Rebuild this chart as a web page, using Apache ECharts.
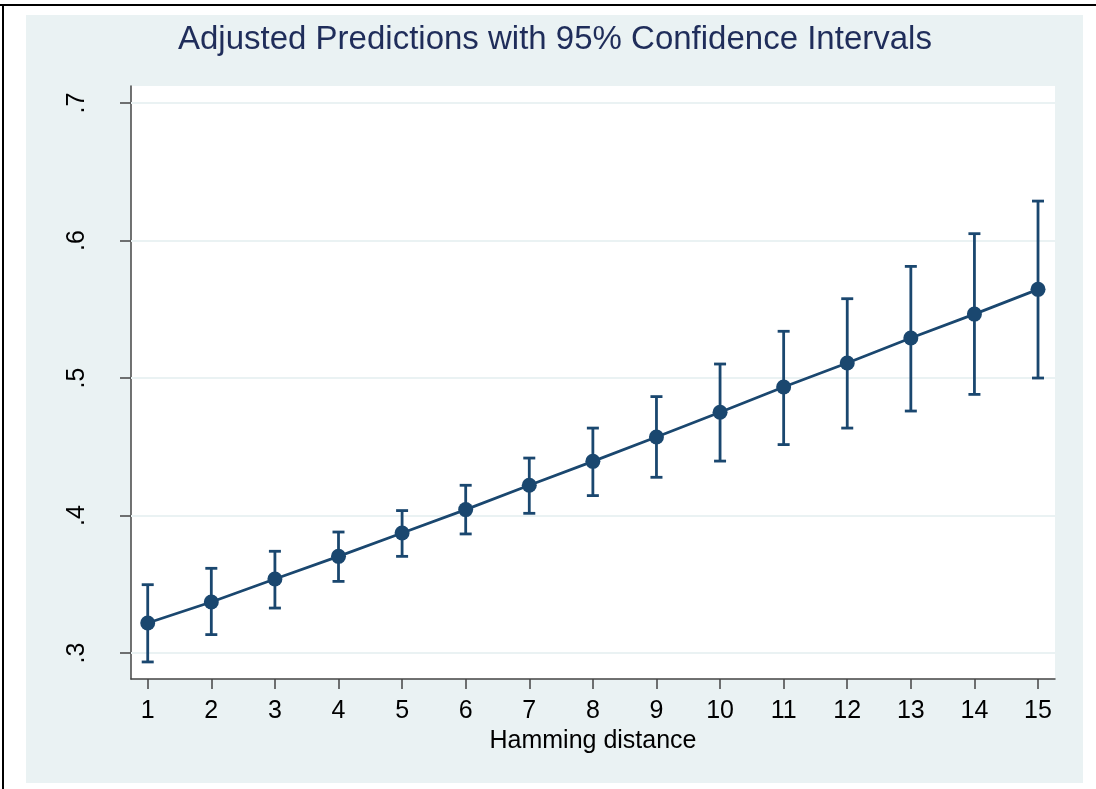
<!DOCTYPE html>
<html><head><meta charset="utf-8">
<script src="https://cdn.jsdelivr.net/npm/echarts@6/dist/echarts.min.js"></script>
<style>html,body{margin:0;padding:0;background:#fff}#c{width:1096px;height:789px}</style>
</head><body><div id="c"></div>
<script>
const hamming   = [1, 2, 3, 4, 5, 6, 7, 8, 9, 10, 11, 12, 13, 14, 15];
const predicted = [0.3218, 0.3371, 0.3538, 0.3703, 0.3873, 0.4043, 0.4220, 0.4394, 0.4571, 0.4751, 0.4935, 0.5109, 0.5291, 0.5465, 0.5645];
const ciLower   = [0.2935, 0.3134, 0.3327, 0.3521, 0.3703, 0.3866, 0.4016, 0.4145, 0.4278, 0.4396, 0.4516, 0.4636, 0.4760, 0.4881, 0.5000];
const ciUpper   = [0.3497, 0.3616, 0.3740, 0.3880, 0.4036, 0.4220, 0.4418, 0.4636, 0.4865, 0.5102, 0.5340, 0.5577, 0.5812, 0.6050, 0.6287];
const yTicks    = [0.3, 0.4, 0.5, 0.6, 0.7];
const xTicks    = hamming;
const titleText = 'Adjusted Predictions with 95% Confidence Intervals';
const xTitle    = 'Hamming distance';

const navy = '#1a476f';
const font = 'Arial, "Liberation Sans", sans-serif';

const chart = echarts.init(document.getElementById('c'), null, {renderer: 'canvas'});
const option = {
  backgroundColor: '#ffffff',
  animation: false,
  graphic: [
    {type: 'rect', z: -10, shape: {x: 26, y: 15, width: 1057, height: 768}, style: {fill: '#eaf2f3'}, silent: true},
    {type: 'rect', z: -10, shape: {x: 0, y: 4, width: 1096, height: 2}, style: {fill: '#000'}, silent: true},
    {type: 'rect', z: -10, shape: {x: 2, y: 4, width: 2, height: 785}, style: {fill: '#000'}, silent: true}
  ],
  title: {
    text: titleText,
    left: 173,
    top: 18,
    textStyle: {fontFamily: font, fontSize: 33, fontWeight: 'normal', color: '#1f2d5a'}
  },
  grid: {
    left: 131, top: 86, right: 41, bottom: 110,
    show: true, backgroundColor: '#ffffff', borderWidth: 0
  },
  xAxis: {
    type: 'value',
    min: 0.737, max: 15.267,
    name: xTitle,
    nameLocation: 'middle',
    nameGap: 48,
    nameTextStyle: {fontFamily: font, fontSize: 25, color: '#000'},
    axisLine: {show: true, onZero: false, lineStyle: {color: '#444', width: 1.5}},
    axisTick: {show: true, length: 10, customValues: xTicks, lineStyle: {color: '#444', width: 1.5}},
    axisLabel: {customValues: xTicks, fontFamily: font, fontSize: 25, color: '#000', margin: 20},
    splitLine: {show: false}
  },
  yAxis: {
    type: 'value',
    min: 0.2811, max: 0.7124,
    axisLine: {show: true, onZero: false, lineStyle: {color: '#444', width: 1.5}},
    axisTick: {show: true, length: 11, customValues: yTicks, lineStyle: {color: '#444', width: 1.5}},
    axisLabel: {
      customValues: yTicks, rotate: 90, margin: 41,
      fontFamily: font, fontSize: 25, color: '#000',
      formatter: v => String(Math.round(v * 10) / 10).replace(/^0/, '')
    },
    splitLine: {show: false}
  },
  series: [
    {
      type: 'line', data: [], z: 1, silent: true,
      markLine: {
        silent: true, symbol: 'none', label: {show: false}, z: 1,
        lineStyle: {color: '#eaf2f3', width: 2, type: 'solid'},
        emphasis: {disabled: true},
        data: yTicks.map(v => ({yAxis: v}))
      }
    },
    {
      type: 'custom', z: 3,
      data: hamming.map((x, i) => [x, ciLower[i], ciUpper[i]]),
      renderItem: function (params, api) {
        const x = api.value(0), lo = api.value(1), hi = api.value(2);
        const pHi = api.coord([x, hi]), pLo = api.coord([x, lo]);
        const w = 6;
        const style = {stroke: navy, lineWidth: 2.8, fill: null};
        return {type: 'group', children: [
          {type: 'line', shape: {x1: pHi[0], y1: pHi[1], x2: pLo[0], y2: pLo[1]}, style: style},
          {type: 'line', shape: {x1: pHi[0] - w, y1: pHi[1], x2: pHi[0] + w, y2: pHi[1]}, style: style},
          {type: 'line', shape: {x1: pLo[0] - w, y1: pLo[1], x2: pLo[0] + w, y2: pLo[1]}, style: style}
        ]};
      }
    },
    {
      type: 'line', z: 4,
      data: hamming.map((x, i) => [x, predicted[i]]),
      symbol: 'circle', symbolSize: 15, showSymbol: true,
      lineStyle: {color: navy, width: 2.8},
      itemStyle: {color: navy, borderWidth: 0}
    }
  ]
};
chart.setOption(option);
</script>
</body></html>
